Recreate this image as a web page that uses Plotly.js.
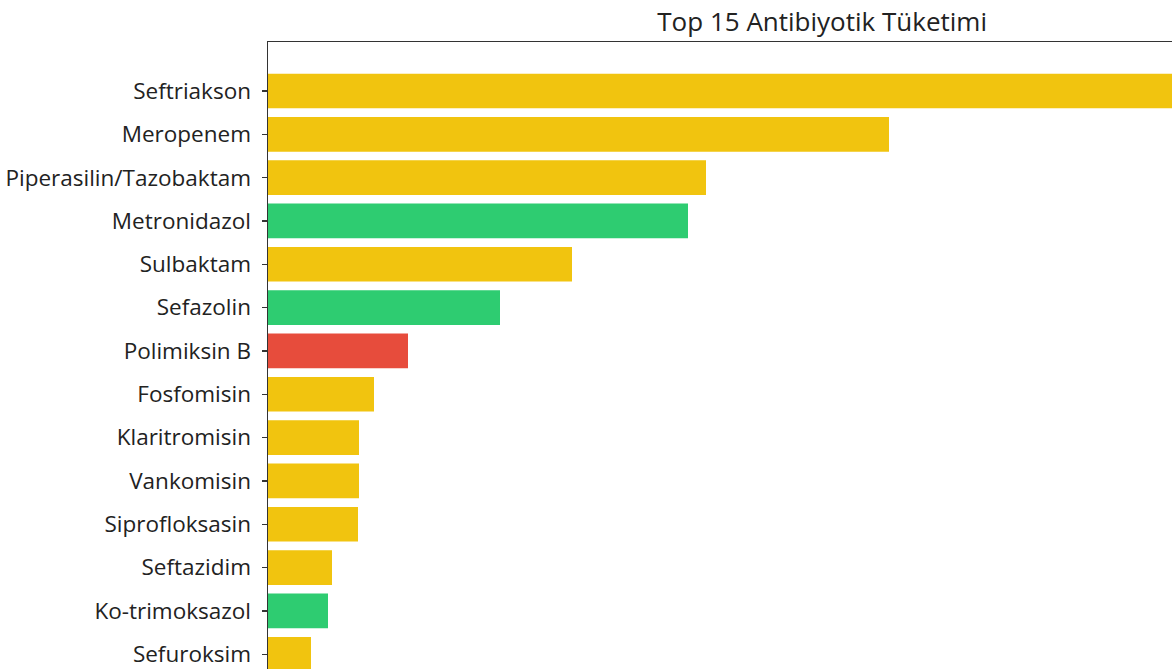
<!DOCTYPE html>
<html>
<head>
<meta charset="utf-8">
<script src="https://cdn.plot.ly/plotly-3.0.1.min.js"></script>
<style>
html,body{margin:0;padding:0;overflow:hidden;background:#fff;}
#chart{width:1172px;height:669px;}
</style>
</head>
<body>
<div id="chart"></div>
<script>
// Top 15 antibiotic consumption (relative units)
const antibiotics = ["Seftriakson","Meropenem","Piperasilin/Tazobaktam","Metronidazol","Sulbaktam","Sefazolin","Polimiksin B","Fosfomisin","Klaritromisin","Vankomisin","Siprofloksasin","Seftazidim","Ko-trimoksazol","Sefuroksim"];
const consumption = [1055, 621, 438, 420, 304, 232, 140, 106, 91, 91, 90, 64, 60, 43];
const groups = ["Watch","Watch","Watch","Access","Watch","Access","Reserve","Watch","Watch","Watch","Watch","Watch","Access","Watch"];
const groupColors = {Access:"#2ECC71", Watch:"#F1C40F", Reserve:"#E74C3C"};

const trace = {
  type: "bar",
  orientation: "h",
  x: consumption,
  y: antibiotics,
  width: 0.8,
  marker: {color: groups.map(g => groupColors[g]), line: {width: 0}},
  hoverinfo: "x+y"
};

const layout = {
  width: 1172,
  height: 669,
  margin: {l: 268, r: 0, t: 42, b: 0, pad: 0},
  paper_bgcolor: "#fff",
  plot_bgcolor: "#fff",
  showlegend: false,
  font: {family: "Open Sans, Noto Sans, sans-serif", color: "#222"},
  title: {
    text: "Top 15 Antibiyotik Tüketimi",
    font: {size: 26, color: "#222", family: "Open Sans, Noto Sans, sans-serif"},
    xref: "paper", x: 0.613, xanchor: "center",
    yref: "container", y: 0.968, yanchor: "middle"
  },
  xaxis: {
    side: "top",
    range: [0, 904],
    showline: true, linecolor: "#333", linewidth: 1.5,
    showgrid: false, zeroline: false,
    showticklabels: false, ticks: ""
  },
  yaxis: {
    type: "category",
    range: [13.34, -1.13],
    showline: true, linecolor: "#333", linewidth: 1.5,
    showgrid: false, zeroline: false,
    ticks: "outside", ticklen: 5, tickwidth: 1.2, tickcolor: "#333",
    ticklabelstandoff: 6,
    tickfont: {size: 22.5, color: "#222"}
  },
  bargap: 0.2
};

Plotly.newPlot("chart", [trace], layout, {displayModeBar: false, staticPlot: true});
</script>
</body>
</html>
